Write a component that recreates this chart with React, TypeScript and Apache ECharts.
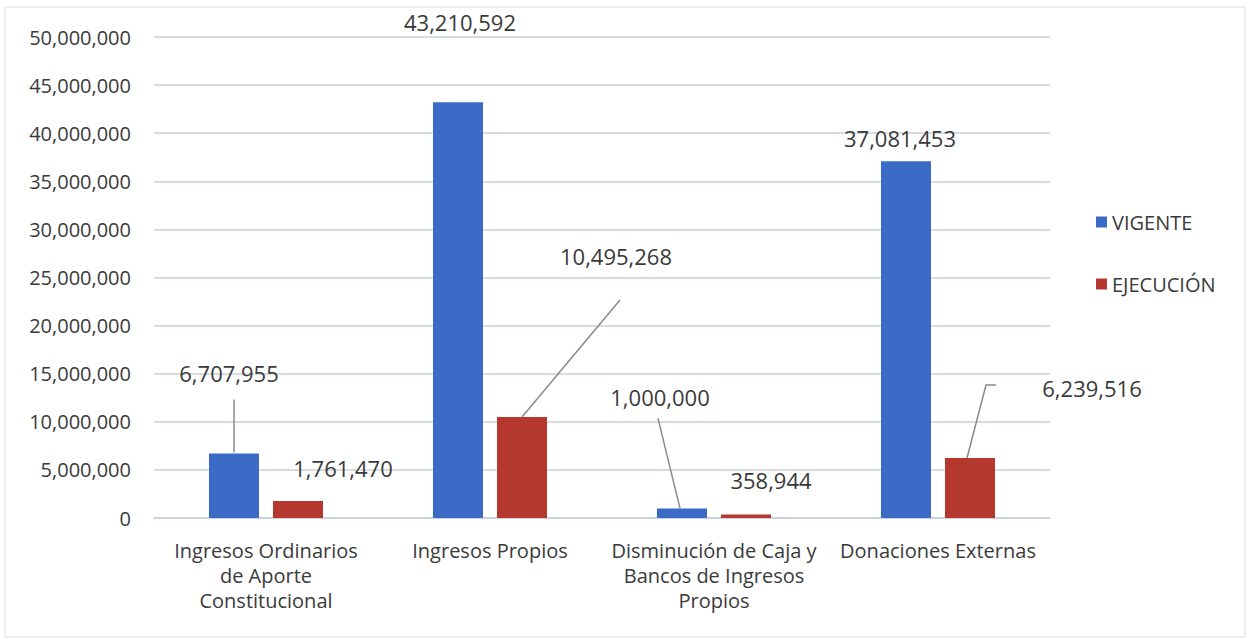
import React, { useEffect, useRef } from "react";
import * as echarts from "echarts";

const categories = [
  "Ingresos Ordinarios\nde Aporte\nConstitucional",
  "Ingresos Propios",
  "Disminución de Caja y\nBancos de Ingresos\nPropios",
  "Donaciones Externas",
];
const seriesNames = ["VIGENTE", "EJECUCIÓN"];
const vigente = [6707955, 43210592, 1000000, 37081453];
const ejecucion = [1761470, 10495268, 358944, 6239516];

// label offsets (px) of each data label centre relative to its bar's top centre
const vigenteLabelOffsets = [[-5, -80], [2, -80], [-22, -111], [-6, -23]];
const ejecucionLabelOffsets = [[45, -33], [94, -161], [25, -35], [122, -70]];

// leader lines: [series (0 vigente / 1 ejecución), category index], points relative to bar top centre
const leaderTargets = [[0, 0], [1, 1], [0, 2], [1, 3]];
const leaderPoints = [
  [[0, -1], [0, -54]],
  [[0, 0], [98, -117]],
  [[-2, 0], [-24, -90]],
  [[-3, 0], [16, -73], [26, -73]],
];

const BAR_W = 50;
const BAR_SHIFT = 32; // half bar width + half gap

const FONT = "'Open Sans', 'Noto Sans', sans-serif";
const fmt = (v: number) => v.toLocaleString("en-US");

export default function App() {
  const ref = useRef<HTMLDivElement>(null);
  useEffect(() => {
    if (!ref.current) return;
    const chart = echarts.init(ref.current, null, { renderer: "svg" });

    const makeLayout = (offs: number[][]) => (p: any) => {
      const o = offs[p.dataIndex];
      return {
        x: p.rect.x + p.rect.width / 2 + o[0],
        y: p.rect.y + o[1],
        align: "center",
        verticalAlign: "middle",
      };
    };

    const labelCommon = {
      show: true,
      position: "top",
      formatter: (p: any) => fmt(p.value),
      fontFamily: FONT,
      fontSize: 22,
      color: "#3a3a3a",
    };

    const leaderData = leaderTargets.map(([s, c], i) => [
      c,
      s === 0 ? vigente[c] : ejecucion[c],
      s,
      i,
    ]);

    chart.setOption({
      animation: false,
      backgroundColor: "#ffffff",
      textStyle: { fontFamily: FONT },
      graphic: [
        {
          type: "rect",
          shape: { x: 5, y: 7, width: 1240, height: 630 },
          style: { fill: "none", stroke: "#dedede", lineWidth: 1 },
          silent: true,
        },
      ],
      legend: {
        orient: "vertical",
        left: 1091,
        top: 206,
        itemWidth: 11,
        itemHeight: 11,
        itemGap: 40,
        icon: "rect",
        data: seriesNames,
        textStyle: {
          fontFamily: FONT,
          fontSize: 20,
          color: "#3a3a3a",
          lineHeight: 22,
        },
      },
      grid: { left: 154, right: 198, top: 37, bottom: 121, containLabel: false },
      xAxis: {
        type: "category",
        data: categories,
        axisTick: { show: false },
        axisLine: { show: true, lineStyle: { color: "#c9cfdb", width: 1.5 } },
        axisLabel: {
          interval: 0,
          margin: 20,
          fontFamily: FONT,
          fontSize: 20,
          lineHeight: 25,
          color: "#3a3a3a",
          align: "center",
        },
      },
      yAxis: {
        type: "value",
        min: 0,
        max: 50000000,
        interval: 5000000,
        axisLine: { show: false },
        axisTick: { show: false },
        splitLine: { lineStyle: { color: "#c9cfdb", width: 1.5 } },
        axisLabel: {
          margin: 23,
          fontFamily: FONT,
          fontSize: 20,
          color: "#3a3a3a",
          formatter: (v: number) => fmt(v),
        },
      },
      series: [
        {
          name: seriesNames[0],
          type: "bar",
          data: vigente,
          barWidth: BAR_W,
          barGap: "28%",
          itemStyle: { color: "#3A6BC6" },
          label: labelCommon,
          labelLayout: makeLayout(vigenteLabelOffsets),
        },
        {
          name: seriesNames[1],
          type: "bar",
          data: ejecucion,
          barWidth: BAR_W,
          itemStyle: { color: "#B5382F" },
          label: labelCommon,
          labelLayout: makeLayout(ejecucionLabelOffsets),
        },
        {
          type: "custom",
          silent: true,
          z: 5,
          data: leaderData,
          renderItem: (params: any, api: any) => {
            const base = api.coord([api.value(0), api.value(1)]);
            const sign = api.value(2) === 0 ? -1 : 1;
            const cx = base[0] + sign * BAR_SHIFT;
            const cy = base[1];
            const pts = leaderPoints[api.value(3)].map((p) => [cx + p[0], cy + p[1]]);
            return {
              type: "polyline",
              shape: { points: pts },
              style: { stroke: "#8a8a8a", lineWidth: 1.5, fill: "none" },
            };
          },
        },
      ],
    });
    return () => chart.dispose();
  }, []);

  return (
    <div
      ref={ref}
      style={{ position: "fixed", left: 0, top: 0, width: 1248, height: 639 }}
    />
  );
}
